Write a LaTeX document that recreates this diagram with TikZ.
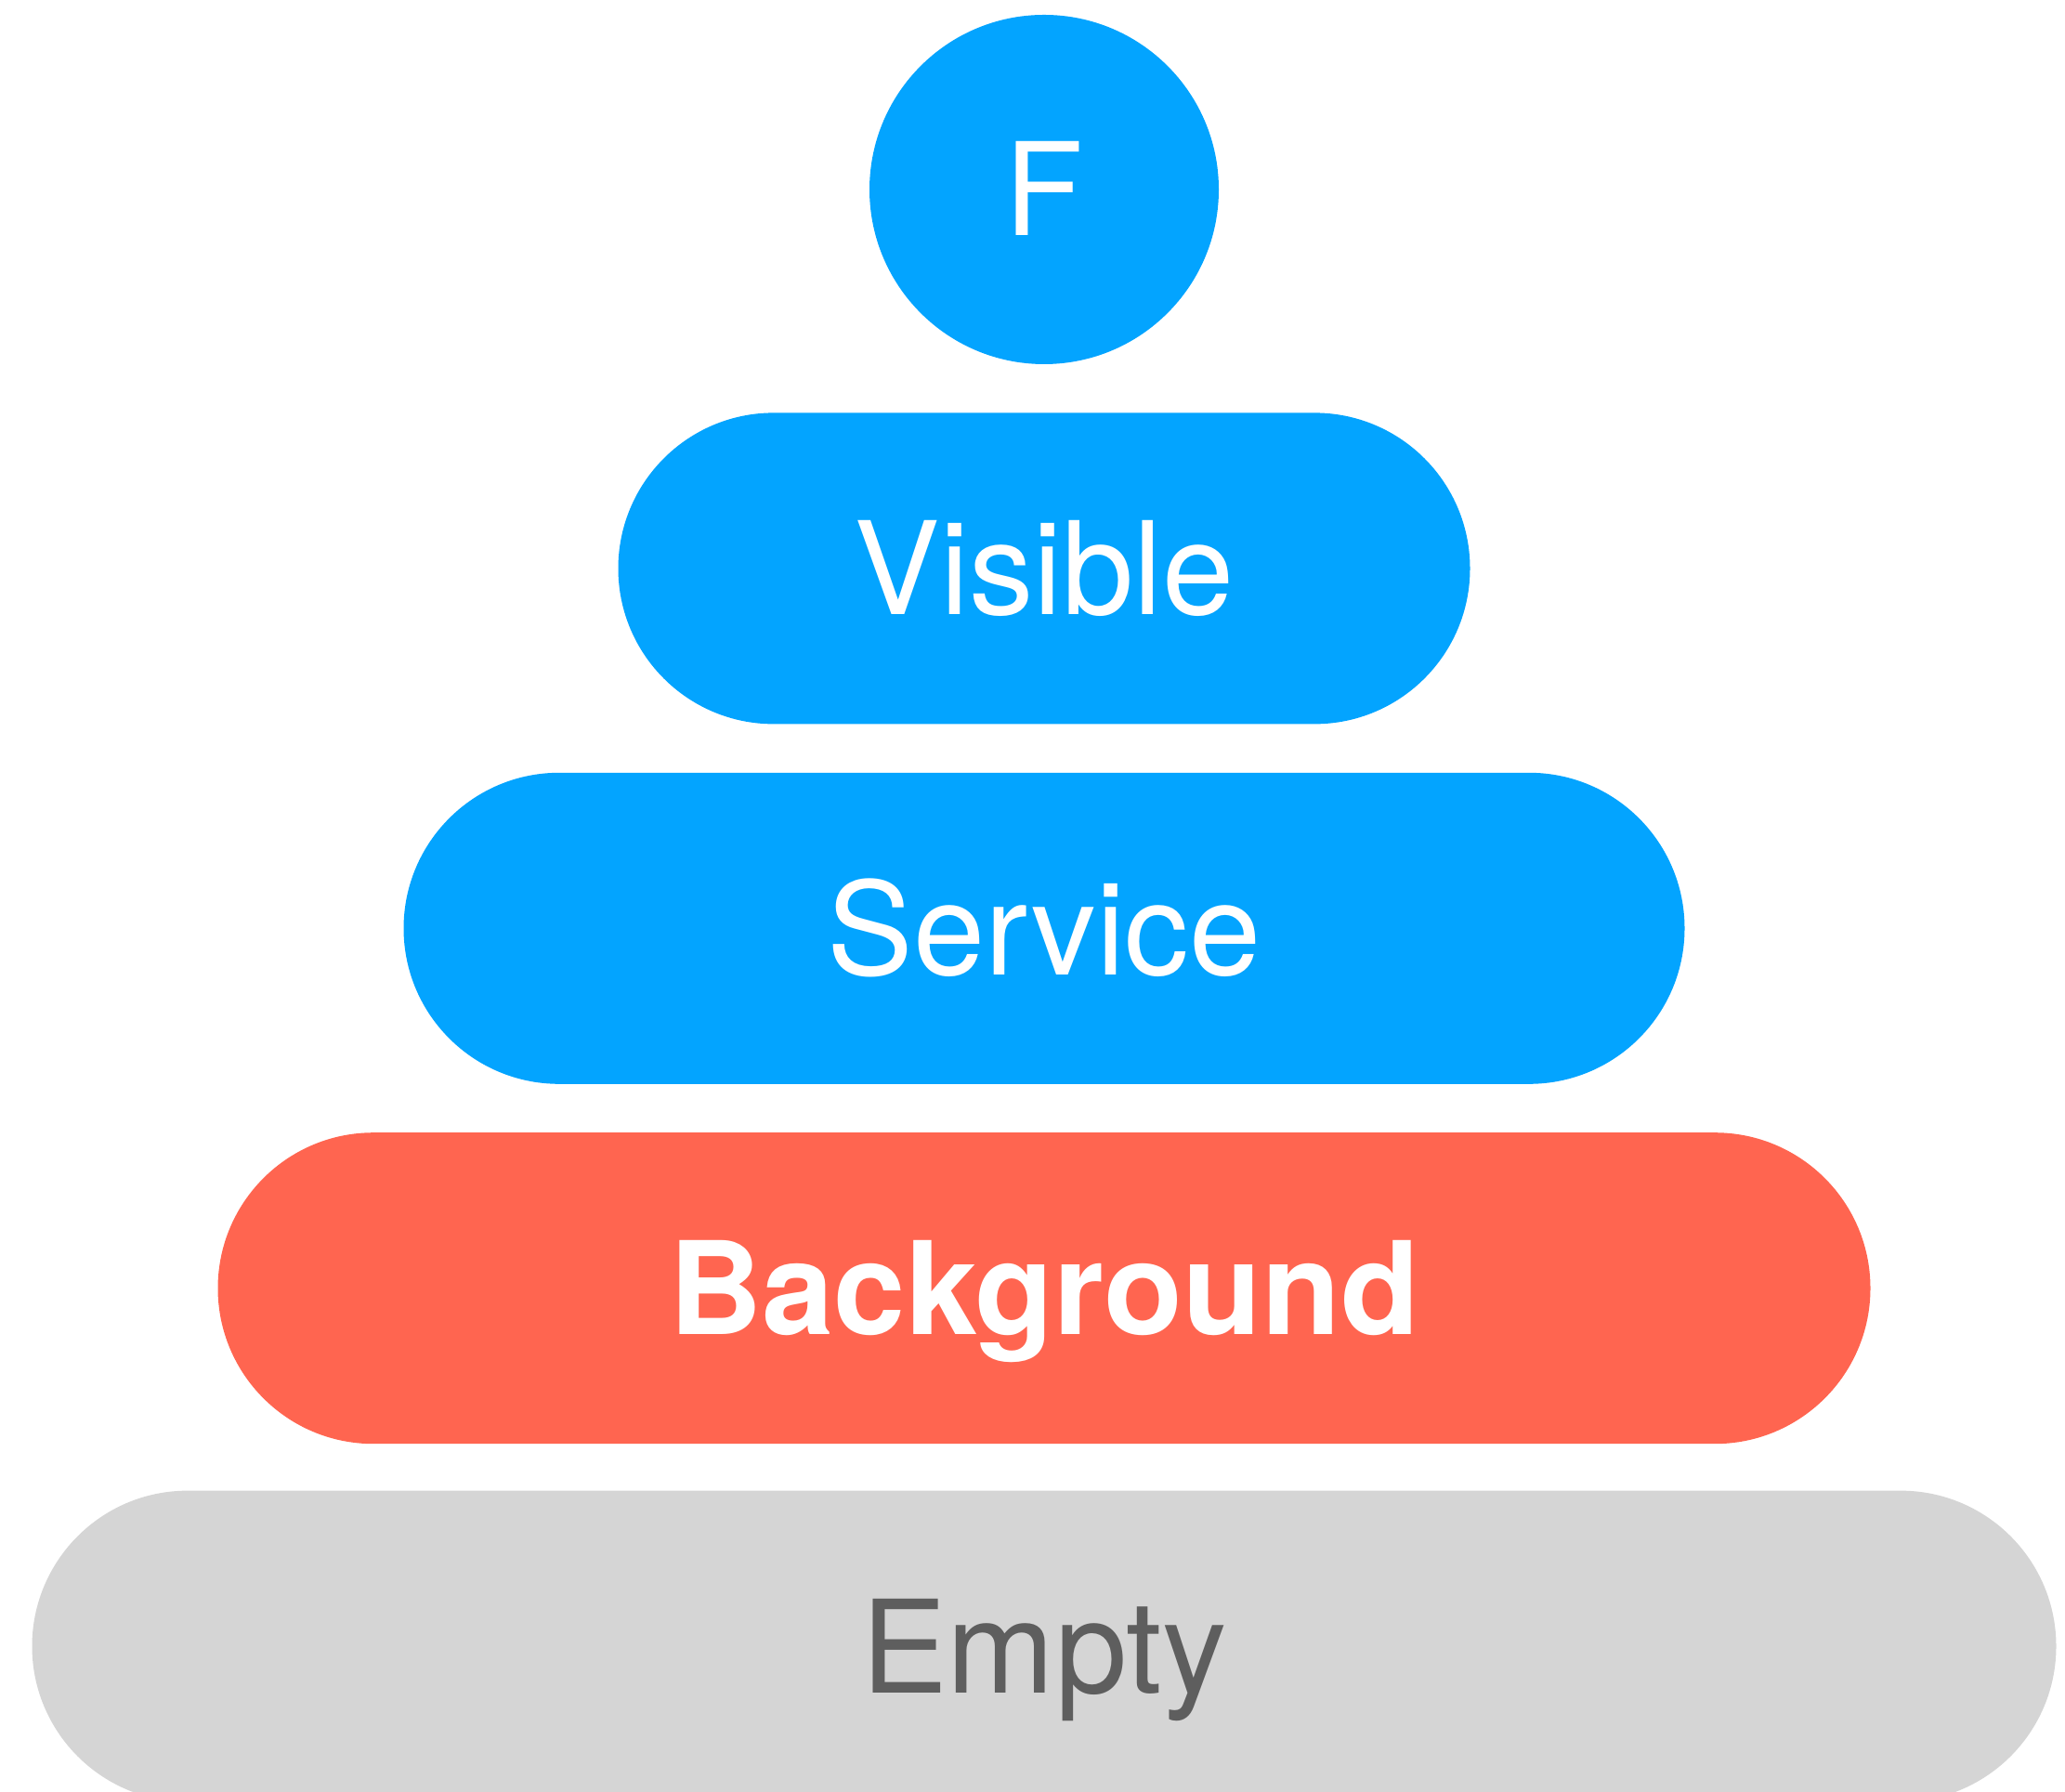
\documentclass[tikz,border=0pt]{standalone}
\usepackage{fontspec}
\setmainfont{TeX Gyre Heros}
\usetikzlibrary{positioning}
\definecolor{LayerBlue}{RGB}{3,164,255}
\definecolor{LayerRed}{RGB}{255,101,80}
\definecolor{LayerGrey}{RGB}{213,213,213}
\definecolor{LayerInk}{RGB}{94,94,94}

\begin{document}
\begin{tikzpicture}[node distance=0.51cm,
  layer/.style={fill=LayerBlue,text=white,inner sep=0pt,minimum height=3.35cm,
    rounded corners=1.675cm,text height=1cm,text depth=0pt,
    font=\fontsize{39.5}{47}\selectfont},
  dot/.style={layer,circle,minimum size=3.76cm,rounded corners=0pt}]
\clip (0,0) rectangle (22.23,19.28);
\node[dot] (f) at (11.24,17.24){F};
\node[layer,minimum width=9.17cm,below=of f] (visible){Visible};
\node[layer,minimum width=13.79cm,below=of visible] (service){Service};
\node[layer,fill=LayerRed,minimum width=17.79cm,below=of service,
  font=\fontsize{39.5}{47}\selectfont\bfseries] (background){Background};
\node[layer,fill=LayerGrey,text=LayerInk,minimum width=21.79cm,below=0.49cm of background] (empty){Empty};
\end{tikzpicture}
\end{document}
